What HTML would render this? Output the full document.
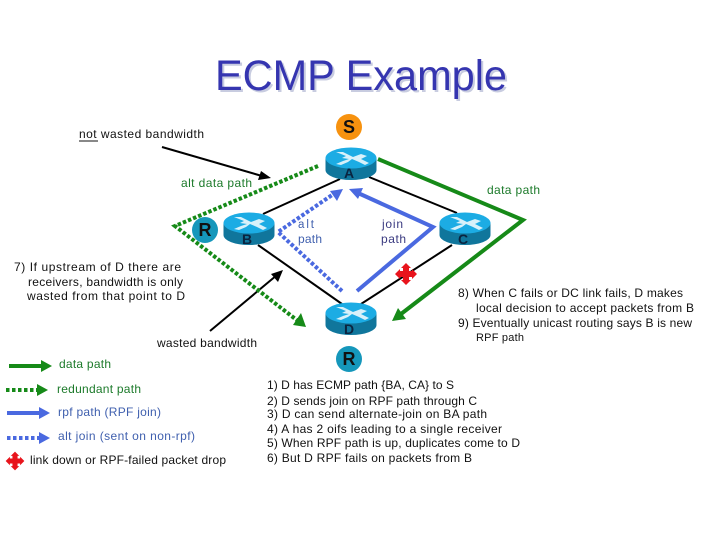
<!DOCTYPE html>
<html><head><meta charset="utf-8"><style>
html,body{margin:0;padding:0;background:#fff}
svg{display:block}
text{font-family:"Liberation Sans",sans-serif;font-size:12px}
.k{fill:#111}.g{fill:#1c7a2a}.b{fill:#3f5fae}.n{fill:#3a3a80}
.r{font-weight:bold;font-size:14px;fill:#0a2440;text-anchor:middle}
.c{font-weight:bold;font-size:18px;fill:#111;text-anchor:middle}
</style></head><body>
<svg width="720" height="540" viewBox="0 0 720 540" xmlns="http://www.w3.org/2000/svg">
<defs>
<g id="router">
<path d="M-25.5,-5 V7 A25.5,10 0 0 0 25.5,7 V-5 Z" fill="#10769c"/>
<ellipse cx="0" cy="-5" rx="25.5" ry="10.5" fill="#1cace4"/>
<path d="M-15,-11 L-5,-7 L-9,-5 L-2,-4 L-8,-2 L-15,1 L-10,2 L-3,-1 L1,-4 L8,-1 L14,2 L18,0 L10,-4 L16,-7 L10,-9 L2,-6 L-8,-11 Z" fill="#d8f1fa"/>
</g>
<g id="cross">
<path d="M-3,-3 V-6 H-5 L0,-11 L5,-6 H3 V-3 H6 V-5 L11,0 L6,5 V3 H3 V6 H5 L0,11 L-5,6 H-3 V3 H-6 V5 L-11,0 L-6,-5 V-3 Z" fill="#e8141c"/>
</g>
</defs>

<!-- title -->
<text x="217" y="92" textLength="292" lengthAdjust="spacingAndGlyphs" style="font-size:43px;fill:#c8cce0">ECMP Example</text>
<text x="215" y="90" textLength="292" lengthAdjust="spacingAndGlyphs" style="font-size:43px;fill:#3535b0">ECMP Example</text>

<!-- black links -->
<g stroke="#000" stroke-width="2" fill="none">
<line x1="263" y1="214" x2="340" y2="179"/>
<line x1="369" y1="177" x2="457" y2="213"/>
<line x1="452" y1="245" x2="361" y2="304"/>
<line x1="258" y1="245" x2="342" y2="304"/>
<line x1="162" y1="147" x2="262" y2="176"/>
<line x1="210" y1="331" x2="277" y2="275"/>
</g>
<polygon points="271,178 258,180 261,171" fill="#000"/>
<polygon points="283,270 278,282 271,274" fill="#000"/>

<!-- green solid path -->
<polyline points="378,159 523,220 401,314" fill="none" stroke="#168a18" stroke-width="4"/>
<polygon points="392,321 398,308 406,319" fill="#168a18"/>
<!-- green dotted path -->
<polyline points="318,166 175,226 298,321" fill="none" stroke="#168a18" stroke-width="4" stroke-dasharray="3.5 2"/>
<polygon points="306,327 293,325 301,313" fill="#168a18"/>
<!-- blue solid path -->
<polyline points="357,291 433,227 358,193" fill="none" stroke="#4a69e0" stroke-width="4"/>
<polygon points="349,189 363,188 358,199" fill="#4a69e0"/>
<!-- blue dotted path -->
<polyline points="342,291 278,232 335,193" fill="none" stroke="#4a69e0" stroke-width="4" stroke-dasharray="3.5 2"/>
<polygon points="343,189 337,201 330,191" fill="#4a69e0"/>

<!-- routers -->
<use href="#router" x="351" y="163"/>
<use href="#router" x="249" y="228"/>
<use href="#router" x="465" y="228"/>
<use href="#router" x="351" y="318"/>
<text class="r" x="349" y="178">A</text>
<text class="r" x="247" y="244">B</text>
<text class="r" x="463" y="244">C</text>
<text class="r" x="349" y="334">D</text>

<!-- circles -->
<circle cx="349" cy="127" r="13" fill="#f7920f"/>
<text class="c" x="349" y="133">S</text>
<circle cx="205" cy="230" r="13" fill="#1597bb"/>
<text class="c" x="205" y="236">R</text>
<circle cx="349" cy="359" r="13" fill="#1597bb"/>
<text class="c" x="349" y="365">R</text>

<use href="#cross" x="406" y="274"/>

<!-- labels -->
<text class="k" x="79" y="138" textLength="125">not wasted bandwidth</text>
<line x1="79" y1="141" x2="98" y2="141" stroke="#111" stroke-width="1"/>
<text class="g" x="181" y="187" textLength="71">alt data path</text>
<text class="g" x="487" y="194" textLength="53">data path</text>
<text class="b" x="298" y="228" style="font-size:11.5px" textLength="16">alt</text>
<text class="b" x="298" y="243" textLength="24">path</text>
<text class="n" x="382" y="228" textLength="21">join</text>
<text class="n" x="381" y="243" textLength="25">path</text>

<text class="k" x="14" y="271" textLength="167">7) If upstream of D there are</text>
<text class="k" x="28" y="286" textLength="155">receivers, bandwidth is only</text>
<text class="k" x="27" y="300" textLength="158">wasted from that point to D</text>
<text class="k" x="157" y="347" textLength="100">wasted bandwidth</text>

<text class="k" x="458" y="297" textLength="225">8) When C fails or DC link fails, D makes</text>
<text class="k" x="476" y="312" textLength="218">local decision to accept packets from B</text>
<text class="k" x="458" y="327" textLength="234">9) Eventually unicast routing says B is new</text>
<text class="k" x="476" y="341" style="font-size:11px" textLength="48">RPF path</text>

<text class="k" x="267" y="389" textLength="187">1) D has ECMP path {BA, CA} to S</text>
<text class="k" x="267" y="405" textLength="210">2) D sends join on RPF path through C</text>
<text class="k" x="267" y="418" textLength="220">3) D can send alternate-join on BA path</text>
<text class="k" x="267" y="433" textLength="235">4) A has 2 oifs leading to a single receiver</text>
<text class="k" x="267" y="447" textLength="253">5) When RPF path is up, duplicates come to D</text>
<text class="k" x="267" y="462" textLength="205">6) But D RPF fails on packets from B</text>

<!-- legend -->
<line x1="9" y1="366" x2="42" y2="366" stroke="#168a18" stroke-width="4"/>
<polygon points="52,366 41,360 41,372" fill="#168a18"/>
<line x1="6" y1="390" x2="38" y2="390" stroke="#168a18" stroke-width="4" stroke-dasharray="3.5 2.5"/>
<polygon points="48,390 37,384 37,396" fill="#168a18"/>
<line x1="7" y1="413" x2="40" y2="413" stroke="#4a69e0" stroke-width="4"/>
<polygon points="50,413 39,407 39,419" fill="#4a69e0"/>
<line x1="7" y1="438" x2="40" y2="438" stroke="#4a69e0" stroke-width="4" stroke-dasharray="3.5 2.5"/>
<polygon points="50,438 39,432 39,444" fill="#4a69e0"/>
<use href="#cross" transform="translate(15,461) scale(0.85)"/>

<text class="g" x="59" y="368" textLength="52">data path</text>
<text class="g" x="57" y="393" textLength="84">redundant path</text>
<text class="b" x="58" y="416" textLength="103">rpf path (RPF join)</text>
<text class="b" x="58" y="440" textLength="137">alt join (sent on non-rpf)</text>
<text class="k" x="30" y="464" textLength="196">link down or RPF-failed packet drop</text>
</svg>
</body></html>
